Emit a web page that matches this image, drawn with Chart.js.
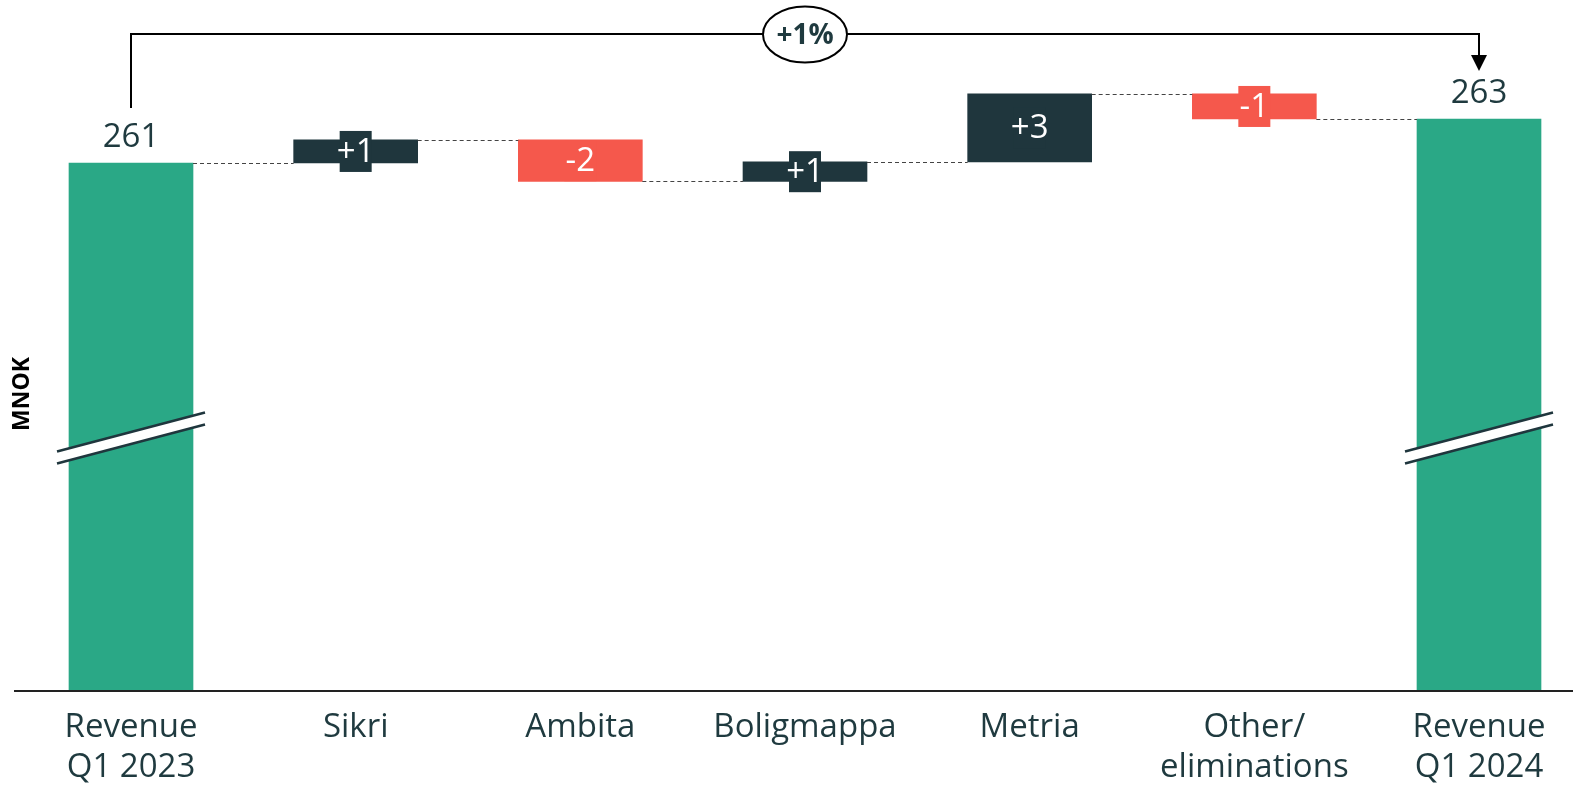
<!DOCTYPE html>
<html>
<head>
<meta charset="utf-8">
<script src="https://cdn.jsdelivr.net/npm/chart.js@4/dist/chart.umd.min.js"></script>
<style>
  html, body { margin: 0; padding: 0; background: #fff; overflow: hidden; }
  #wrap { width: 1573px; height: 785px; }
</style>
</head>
<body>
<div id="wrap"><canvas id="revChart" width="1573" height="785"></canvas></div>
<script>
const categories = [["Revenue", "Q1 2023"], "Sikri", "Ambita", "Boligmappa", "Metria", ["Other/", "eliminations"], ["Revenue", "Q1 2024"]];
const startValue = 261;
const deltas = [1.05, -1.89, 0.89, 3.09, -1.14];
const endValue = 263;
const valueLabels = ["261", "+1", "-2", "+1", "+3", "-1", "263"];
const changeLabel = "+1%";
const axisMin = 237;
const axisMax = 268;
const breakValue = 248.5;

const GREEN = "#2aa886", DARK = "#1f363d", RED = "#f5584c", TEXT = "#1f3a3f";
const FONT = "'Open Sans', sans-serif";

/* floating bars for the waterfall */
let running = startValue;
const bars = [[axisMin, startValue]];
const colors = [GREEN];
const levels = [startValue];
deltas.forEach(d => {
  bars.push([running, running + d]);
  colors.push(d >= 0 ? DARK : RED);
  running += d;
  levels.push(running);
});
bars.push([axisMin, endValue]);
colors.push(GREEN);
levels.push(endValue);

const extras = {
  id: "extras",
  afterDatasetsDraw(chart) {
    const ctx = chart.ctx;
    const y = chart.scales.y;
    const py = v => y.getPixelForValue(v);
    const area = chart.chartArea;
    const els = chart.getDatasetMeta(0).data;

    ctx.save();

    /* dashed connectors */
    ctx.strokeStyle = "#444";
    ctx.lineWidth = 1;
    ctx.setLineDash([4, 3]);
    for (let i = 0; i < els.length - 1; i++) {
      const a = els[i], b = els[i + 1];
      const ly = Math.round(py(levels[i])) + 0.5;
      ctx.beginPath();
      ctx.moveTo(a.x + a.width / 2, ly);
      ctx.lineTo(b.x - b.width / 2, ly);
      ctx.stroke();
    }
    ctx.setLineDash([]);

    /* axis breaks on the total bars */
    [0, els.length - 1].forEach(i => {
      const el = els[i];
      const cx = el.x, cy = py(breakValue);
      const hw = el.width / 2 + 12;
      const rise = 19.5, gap = 12;
      ctx.fillStyle = "#fff";
      ctx.beginPath();
      ctx.moveTo(cx - hw, cy + rise - gap / 2);
      ctx.lineTo(cx + hw, cy - rise - gap / 2);
      ctx.lineTo(cx + hw, cy - rise + gap / 2);
      ctx.lineTo(cx - hw, cy + rise + gap / 2);
      ctx.closePath();
      ctx.fill();
      ctx.strokeStyle = DARK;
      ctx.lineWidth = 2.5;
      [-gap / 2, gap / 2].forEach(off => {
        ctx.beginPath();
        ctx.moveTo(cx - hw, cy + rise + off);
        ctx.lineTo(cx + hw, cy - rise + off);
        ctx.stroke();
      });
    });

    /* baseline */
    ctx.strokeStyle = "#222";
    ctx.lineWidth = 2;
    ctx.beginPath();
    ctx.moveTo(14, area.bottom);
    ctx.lineTo(chart.width, area.bottom);
    ctx.stroke();

    /* value labels */
    ctx.font = "33px " + FONT;
    ctx.textAlign = "center";
    ctx.textBaseline = "middle";
    els.forEach((el, i) => {
      const [lo, hi] = bars[i];
      if (i === 0 || i === els.length - 1) {
        ctx.fillStyle = TEXT;
        ctx.fillText(valueLabels[i], el.x, py(hi) - 25);
      } else {
        const my = (py(lo) + py(hi)) / 2;
        ctx.fillStyle = colors[i];
        ctx.fillRect(el.x - 16, my - 20.5, 32, 41);
        ctx.fillStyle = "#fff";
        ctx.fillText(valueLabels[i], el.x, my + 1);
      }
    });

    /* change bracket */
    const first = els[0], last = els[els.length - 1];
    const by = 34;
    ctx.strokeStyle = "#000";
    ctx.lineWidth = 2;
    ctx.beginPath();
    ctx.moveTo(first.x, py(bars[0][1]) - 55);
    ctx.lineTo(first.x, by);
    ctx.lineTo(last.x, by);
    ctx.lineTo(last.x, 56);
    ctx.stroke();
    ctx.fillStyle = "#000";
    ctx.beginPath();
    ctx.moveTo(last.x - 8, 55);
    ctx.lineTo(last.x + 8, 55);
    ctx.lineTo(last.x, py(bars[bars.length - 1][1]) - 48);
    ctx.closePath();
    ctx.fill();

    const mx = (first.x + last.x) / 2;
    ctx.fillStyle = "#fff";
    ctx.beginPath();
    ctx.ellipse(mx, by + 0.5, 42, 28, 0, 0, Math.PI * 2);
    ctx.fill();
    ctx.stroke();
    ctx.fillStyle = TEXT;
    ctx.font = "bold 28px " + FONT;
    ctx.fillText(changeLabel, mx, by + 2);

    /* unit title */
    ctx.translate(22, 394);
    ctx.rotate(-Math.PI / 2);
    ctx.fillStyle = "#000";
    ctx.font = "bold 23px " + FONT;
    ctx.fillText("MNOK", 0, 0);

    ctx.restore();
  }
};

new Chart(document.getElementById("revChart"), {
  type: "bar",
  data: {
    labels: categories,
    datasets: [{
      data: bars,
      backgroundColor: colors,
      borderWidth: 0,
      barThickness: 124,
      clip: false
    }]
  },
  options: {
    responsive: false,
    animation: false,
    layout: { padding: { left: 131, right: 94, top: 9, bottom: 0 } },
    plugins: { legend: { display: false }, tooltip: { enabled: false } },
    scales: {
      x: {
        offset: false,
        grid: { display: false, drawTicks: false },
        border: { display: false },
        afterFit(scale) { scale.height = 94; },
        ticks: {
          color: TEXT,
          font: { family: FONT, size: 33, lineHeight: 1.21 },
          padding: 17,
          maxRotation: 0,
          autoSkip: false
        }
      },
      y: {
        display: false,
        min: axisMin,
        max: axisMax
      }
    }
  },
  plugins: [extras]
});
</script>
</body>
</html>
